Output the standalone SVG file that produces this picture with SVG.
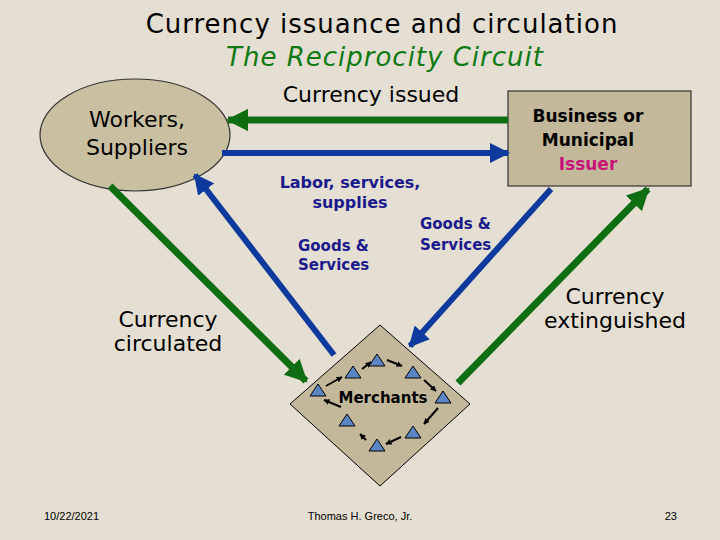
<svg xmlns="http://www.w3.org/2000/svg" width="720" height="540" viewBox="0 0 720 540">
<defs>
<style>
text{font-family:"DejaVu Sans","Noto Sans",sans-serif}
.big{font-size:22px;fill:#000}
.lab{font-size:16px;fill:#1a1a8c;font-weight:bold}
.g{stroke:#0f6e12;stroke-width:7;fill:none}
.b{stroke:#0d3a9c;stroke-width:6;fill:none}
.tri{fill:#5b86c3;stroke:#000;stroke-width:1}
.sm{stroke:#000;stroke-width:2;fill:none}
.ft{font-family:"Liberation Sans",sans-serif;font-size:11px;fill:#000}
</style>
<marker id="mg" viewBox="0 0 10 10" refX="9" refY="5" markerWidth="3.2" markerHeight="3.2" orient="auto" markerUnits="strokeWidth"><path d="M0,0L10,5L0,10z" fill="#0f6e12"/></marker>
<marker id="mb" viewBox="0 0 10 10" refX="9" refY="5" markerWidth="3.4" markerHeight="3.4" orient="auto" markerUnits="strokeWidth"><path d="M0,0L10,5L0,10z" fill="#0d3a9c"/></marker>
<marker id="ms" viewBox="0 0 10 10" refX="9" refY="5" markerWidth="3" markerHeight="3" orient="auto" markerUnits="strokeWidth"><path d="M0,0L10,5L0,10z" fill="#000"/></marker>
</defs>
<rect width="720" height="540" fill="#e4dfd2"/>
<text x="382" y="33" text-anchor="middle" style="font-size:26px;letter-spacing:1px">Currency issuance and circulation</text>
<text x="385" y="66" text-anchor="middle" style="font-size:26px;font-style:italic;fill:#0f7a12;letter-spacing:1px">The Reciprocity Circuit</text>
<text x="371" y="102" text-anchor="middle" class="big">Currency issued</text>
<g id="workers"><ellipse cx="135" cy="135" rx="95" ry="56" fill="#c8c0a0" stroke="#333" stroke-width="1.2"/>
<text x="137" y="127" text-anchor="middle" class="big">Workers,</text><text x="137" y="155" text-anchor="middle" class="big">Suppliers</text></g>
<g id="issuer"><rect x="508" y="91" width="183" height="95" fill="#c3b99a" stroke="#333" stroke-width="1.2"/>
<text x="588" y="122" text-anchor="middle" style="font-size:17px;font-weight:bold">Business or</text>
<text x="588" y="146" text-anchor="middle" style="font-size:17px;font-weight:bold">Municipal</text>
<text x="588" y="170" text-anchor="middle" style="font-size:17px;font-weight:bold;fill:#c8127a">Issuer</text></g>
<g id="merchants"><polygon points="380,325 470,404 380,486 290,404" fill="#c3b99a" stroke="#000" stroke-width="1"/>
<text x="383" y="403" text-anchor="middle" style="font-size:15px;font-weight:bold">Merchants</text>
<g class="tri">
<polygon points="377,354 369,366 385,366"/><polygon points="353,366 345,378 361,378"/><polygon points="318,384 310,396 326,396"/><polygon points="347,414 339,426 355,426"/><polygon points="377,439 369,451 385,451"/><polygon points="413,426 405,438 421,438"/><polygon points="443,391 435,403 451,403"/><polygon points="413,366 405,378 421,378"/></g>
<g class="sm">
<line x1="362" y1="369" x2="371" y2="362" marker-end="url(#ms)"/><line x1="387" y1="360" x2="402" y2="366" marker-end="url(#ms)"/>
<line x1="424" y1="380" x2="436" y2="391" marker-end="url(#ms)"/><line x1="438" y1="408" x2="424" y2="424" marker-end="url(#ms)"/>
<line x1="401" y1="437" x2="386" y2="444" marker-end="url(#ms)"/><line x1="366" y1="440" x2="360" y2="434" marker-end="url(#ms)"/>
<line x1="341" y1="407" x2="324" y2="400" marker-end="url(#ms)"/><line x1="326" y1="386" x2="342" y2="377" marker-end="url(#ms)"/></g></g>
<g id="connectors">
<line class="g" x1="508" y1="120" x2="228" y2="120" marker-end="url(#mg)"/>
<line class="b" x1="222" y1="153" x2="508" y2="153" marker-end="url(#mb)"/>
<line class="g" x1="110" y1="186" x2="306" y2="381" marker-end="url(#mg)"/>
<line class="b" x1="334" y1="355" x2="195" y2="175" marker-end="url(#mb)"/>
<line class="b" x1="551" y1="189" x2="410" y2="346" marker-end="url(#mb)"/>
<line class="g" x1="458" y1="383" x2="648" y2="189" marker-end="url(#mg)"/>
</g>
<text x="350" y="188" text-anchor="middle" class="lab">Labor, services,</text>
<text x="350" y="208" text-anchor="middle" class="lab">supplies</text>
<text x="298" y="251" class="lab" style="font-size:15px">Goods &amp;</text>
<text x="298" y="270" class="lab" style="font-size:15px">Services</text>
<text x="420" y="229" class="lab" style="font-size:15px">Goods &amp;</text>
<text x="420" y="250" class="lab" style="font-size:15px">Services</text>
<text x="168" y="327" text-anchor="middle" class="big">Currency</text>
<text x="168" y="351" text-anchor="middle" class="big">circulated</text>
<text x="615" y="304" text-anchor="middle" class="big">Currency</text>
<text x="615" y="328" text-anchor="middle" class="big">extinguished</text>
<text x="44" y="520" class="ft">10/22/2021</text>
<text x="360" y="520" text-anchor="middle" class="ft">Thomas H. Greco, Jr.</text>
<text x="677" y="520" text-anchor="end" class="ft">23</text>
</svg>
